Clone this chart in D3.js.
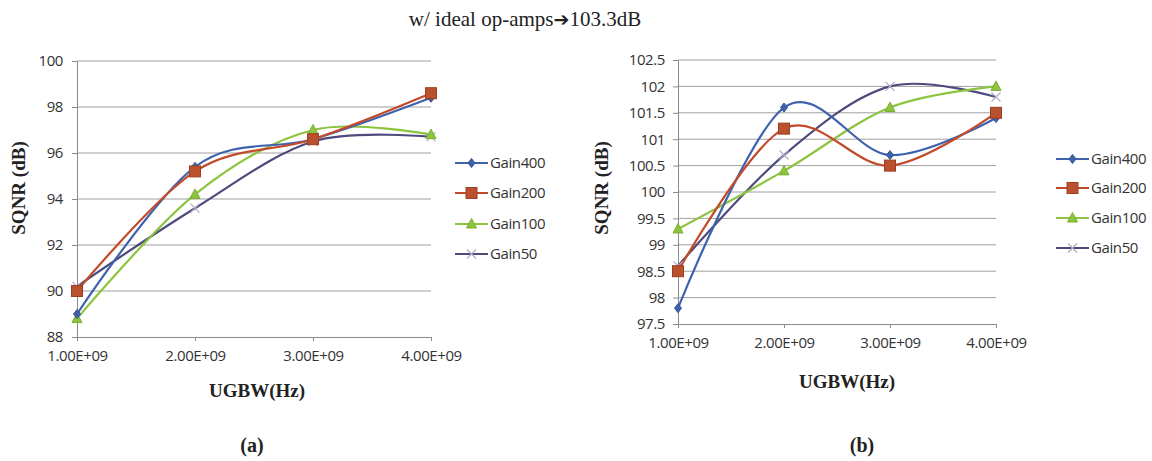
<!DOCTYPE html>
<html>
<head>
<meta charset="utf-8">
<script src="https://cdn.jsdelivr.net/npm/d3@7"></script>
<style>
  html, body { margin: 0; padding: 0; background: #fff; }
  svg { display: block; }
</style>
</head>
<body>
<script>
// category axis
var ugbw = [1e9, 2e9, 3e9, 4e9];
var ugbwLabels = ['1.00E+09', '2.00E+09', '3.00E+09', '4.00E+09'];
var seriesNames = ['Gain400', 'Gain200', 'Gain100', 'Gain50'];

// panel (a)
var sqnrA400 = [89.0, 95.4, 96.6, 98.4];
var sqnrA200 = [90.0, 95.2, 96.6, 98.6];
var sqnrA100 = [88.8, 94.2, 97.0, 96.8];
var sqnrA50  = [90.2, 93.6, 96.5, 96.7];
var ticksA = [88, 90, 92, 94, 96, 98, 100];

// panel (b)
var sqnrB400 = [97.8, 101.6, 100.7, 101.4];
var sqnrB200 = [98.5, 101.2, 100.5, 101.5];
var sqnrB100 = [99.3, 100.4, 101.6, 102.0];
var sqnrB50  = [98.6, 100.7, 102.0, 101.8];
var ticksB = [97.5, 98, 98.5, 99, 99.5, 100, 100.5, 101, 101.5, 102, 102.5];

var colors = ['#3f62ae', '#c24a2a', '#8cc43f', '#4d4a7c'];
var markerFill = ['#3f62ae', '#b9512f', '#8cc43f', 'none'];
var markerStroke = ['#35548f', '#9e3f22', '#7aaf32', '#b8a8c8'];

var W = 1152, H = 461;
var tickFont = '"Open Sans", sans-serif',
    serif = '"Liberation Serif", "Times New Roman", serif';

var svg = d3.select('body').append('svg')
    .attr('width', W)
    .attr('height', H)
    .style('background', '#fff');

svg.append('text')
    .attr('x', 525)
    .attr('y', 26)
    .attr('text-anchor', 'middle')
    .style('font-family', serif)
    .style('font-size', '21px')
    .style('fill', '#222')
    .html('w/ ideal op-amps<tspan font-family="DejaVu Sans" font-size="19px">\u2794</tspan>103.3dB');

function marker(g, i) {
    if(i == 0) {
        g.append('path').attr('d', 'M0,-4.5L3.5,0L0,4.5L-3.5,0Z');
    } else if(i == 1) {
        g.append('rect').attr('x', -5.5).attr('y', -5.5).attr('width', 11).attr('height', 11);
    } else if(i == 2) {
        g.append('path').attr('d', 'M0,-5.5L5,4L-5,4Z');
    } else {
        g.append('path').attr('d', 'M-4.5,-4.5L4.5,4.5M-4.5,4.5L4.5,-4.5');
    }
    g.selectAll('*')
        .style('fill', markerFill[i])
        .style('stroke', markerStroke[i])
        .style('stroke-width', i == 3 ? 1.2 : 1);
}

function panel(p) {
    var x = d3.scalePoint()
        .domain(ugbw)
        .range([p.x0, p.x1]);

    var y = d3.scaleLinear()
        .domain([p.ticks[0], p.ticks[p.ticks.length - 1]])
        .range([p.yBot, p.yTop]);

    var g = svg.append('g');

    // gridlines
    g.selectAll('.grid')
        .data(p.ticks.slice(1))
        .enter().append('line')
            .attr('x1', p.x0)
            .attr('x2', p.x1)
            .attr('y1', function(d) { return y(d); })
            .attr('y2', function(d) { return y(d); })
            .style('stroke', '#a0a0a0')
            .style('stroke-width', 1);

    // y axis
    var yAxis = g.append('g')
        .attr('transform', 'translate(' + p.x0 + ',0)')
        .call(d3.axisLeft(y).tickValues(p.ticks).tickSize(5).tickPadding(p.yPad)
            .tickFormat(function(d) { return String(d); }));

    // x axis
    var xAxis = g.append('g')
        .attr('transform', 'translate(0,' + p.yBot + ')')
        .call(d3.axisBottom(x).tickSize(4).tickPadding(9)
            .tickFormat(function(d, i) { return ugbwLabels[i]; }));

    [yAxis, xAxis].forEach(function(a) {
        a.select('.domain').style('stroke', '#8a8a8a');
        a.selectAll('.tick line').style('stroke', '#8a8a8a');
        a.selectAll('text')
            .style('font-family', tickFont)
            .style('font-size', '15px')
            .style('fill', '#333')
            .style('letter-spacing', '-0.4px');
    });

    var line = d3.line()
        .x(function(d, i) { return x(ugbw[i]); })
        .y(function(d) { return y(d); })
        .curve(d3.curveCatmullRom.alpha(0));

    var order = [3, 2, 0, 1];
    order.forEach(function(i) {
        g.append('path')
            .attr('d', line(p.series[i]))
            .style('fill', 'none')
            .style('stroke', colors[i])
            .style('stroke-width', 2.2);
    });
    order.forEach(function(i) {
        p.series[i].forEach(function(v, j) {
            var m = g.append('g')
                .attr('transform', 'translate(' + x(ugbw[j]) + ',' + y(v) + ')');
            marker(m, i);
        });
    });

    // legend
    seriesNames.forEach(function(name, i) {
        var ly = p.legY[i];
        g.append('line')
            .attr('x1', p.legX)
            .attr('x2', p.legX + 33)
            .attr('y1', ly)
            .attr('y2', ly)
            .style('stroke', colors[i])
            .style('stroke-width', 2.2);
        var m = g.append('g')
            .attr('transform', 'translate(' + (p.legX + 16.5) + ',' + ly + ')');
        marker(m, i);
        g.append('text')
            .attr('x', p.legX + 35)
            .attr('y', ly)
            .attr('dy', '0.36em')
            .style('font-family', tickFont)
            .style('font-size', '15px')
            .style('fill', '#333')
            .style('letter-spacing', '-0.4px')
            .text(name);
    });

    // axis titles
    g.append('text')
        .attr('transform', 'translate(' + p.yTitleX + ',' + p.yTitleY + ') rotate(-90)')
        .attr('text-anchor', 'middle')
        .style('font-family', serif)
        .style('font-weight', 'bold')
        .style('font-size', '19px')
        .style('fill', '#222')
        .text('SQNR (dB)');

    g.append('text')
        .attr('x', p.xTitleX)
        .attr('y', p.xTitleY)
        .attr('text-anchor', 'middle')
        .style('font-family', serif)
        .style('font-weight', 'bold')
        .style('font-size', '19px')
        .style('fill', '#222')
        .text('UGBW(Hz)');

    g.append('text')
        .attr('x', p.capX)
        .attr('y', 452)
        .attr('text-anchor', 'middle')
        .style('font-family', serif)
        .style('font-weight', 'bold')
        .style('font-size', '20px')
        .style('fill', '#222')
        .text(p.caption);
}

panel({
    x0: 77, x1: 431, yTop: 61, yBot: 337,
    ticks: ticksA,
    series: [sqnrA400, sqnrA200, sqnrA100, sqnrA50],
    yPad: 9,
    legX: 455, legY: [163, 193, 224, 254],
    yTitleX: 25, yTitleY: 188, xTitleX: 257, xTitleY: 397,
    capX: 252, caption: '(a)'
});

panel({
    x0: 678, x1: 996, yTop: 60, yBot: 324,
    ticks: ticksB,
    series: [sqnrB400, sqnrB200, sqnrB100, sqnrB50],
    yPad: 8,
    legX: 1056, legY: [159, 188, 218, 248],
    yTitleX: 608, yTitleY: 188, xTitleX: 847, xTitleY: 388,
    capX: 862, caption: '(b)'
});
</script>
</body>
</html>
